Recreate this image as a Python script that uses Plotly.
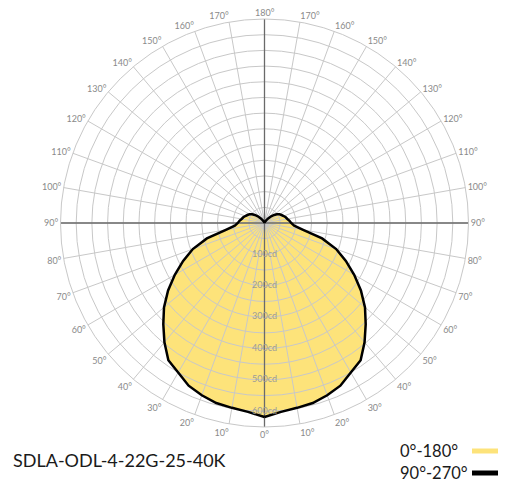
import plotly.graph_objects as go

# ---- data ----
ANGLES = [0, 5, 10, 15, 20, 25, 30, 35, 40, 45, 50, 55, 60, 65, 70, 75, 80, 85,
          90, 95, 100, 105, 110, 115, 120, 125, 130, 135, 140, 145, 150, 155, 160,
          165, 170, 175, 180]
INTENSITY_C0 = [618, 604, 598, 594, 584, 572, 550, 534, 496, 456, 418, 375, 330, 286,
                243, 190, 125, 95, 85, 80, 74, 70, 65, 60, 55, 48, 40, 30, 20, 12, 7,
                4, 2, 1, 0, 0, 0]
INTENSITY_C90 = list(INTENSITY_C0)
RADIAL_TICKS = [100, 200, 300, 400, 500, 600]
RADIAL_LABELS = ["100cd", "200cd", "300cd", "400cd", "500cd", "600cd"]
ANGLE_TICKS = list(range(0, 360, 10))
ANGLE_LABELS = [f"{t if t <= 180 else 360 - t}°" for t in ANGLE_TICKS]
TITLE = "SDLA-ODL-4-22G-25-40K"
SERIES_NAMES = ["0°-180°", "90°-270°"]
R_MAX = 650

YELLOW = "#FDE37A"
GRID = "#c8c8c8"
AXIS_DARK = "#6a6a6a"
TICK_GREY = "#8a8a8a"
FONT = "Lato"

# page body has an 8px margin; figure is sized to fit inside the window
OFF = 8
W, H = 524 - 2 * OFF, 498 - 2 * OFF


def px(x):
    return (x - OFF) / W


def py(y):
    return 1 - (y - OFF) / H


def full_curve(vals):
    theta = ANGLES + [360 - a for a in reversed(ANGLES[:-1])]
    r = vals + list(reversed(vals[:-1]))
    return theta, r


th0, r0 = full_curve(INTENSITY_C0)
th90, r90 = full_curve(INTENSITY_C90)

# the top (180°) label is written as an annotation so it sits inside the page
top_idx = ANGLE_TICKS.index(180)
tick_text_axis = [("" if i == top_idx else t) for i, t in enumerate(ANGLE_LABELS)]

fig = go.Figure()

fig.add_trace(go.Scatterpolar(r=r0, theta=th0, mode="lines", fill="toself",
                              fillcolor=YELLOW, line=dict(color=YELLOW, width=1),
                              name=SERIES_NAMES[0], subplot="polar"))

fig.add_trace(go.Scatterpolar(r=[R_MAX, 0, R_MAX], theta=[0, 0, 180], mode="lines",
                              line=dict(color=AXIS_DARK, width=1.3), subplot="polar2"))
fig.add_trace(go.Scatterpolar(r=[R_MAX, 0, R_MAX], theta=[90, 90, 270], mode="lines",
                              line=dict(color=AXIS_DARK, width=1.3), subplot="polar2"))

fig.add_trace(go.Scatterpolar(r=r90, theta=th90, mode="lines",
                              line=dict(color="black", width=2.5),
                              name=SERIES_NAMES[1], subplot="polar2"))

fig.add_trace(go.Scatterpolar(r=RADIAL_TICKS, theta=[0] * len(RADIAL_TICKS), mode="text",
                              text=RADIAL_LABELS, textposition="middle center",
                              textfont=dict(family=FONT, size=9, color="#9a9a9a"),
                              subplot="polar2"))

cx, cy, rad = 264.5, 223.0, 204.0
dom_x = [px(cx - rad), px(cx + rad)]
dom_y = [py(cy + rad), py(cy - rad)]

common_ang = dict(rotation=-90, direction="counterclockwise", tickmode="array",
                  tickvals=ANGLE_TICKS, ticks="")
common_rad = dict(range=[0, R_MAX], dtick=50, tick0=0, showticklabels=False,
                  ticks="", showline=False)

fig.update_layout(
    width=W, height=H,
    margin=dict(l=0, r=0, t=0, b=0),
    paper_bgcolor="white",
    showlegend=False,
    polar=dict(domain=dict(x=dom_x, y=dom_y), bgcolor="white",
               angularaxis=dict(**common_ang, ticktext=ANGLE_LABELS, showgrid=False,
                                showline=False, showticklabels=False),
               radialaxis=dict(**common_rad, showgrid=False)),
    polar2=dict(domain=dict(x=dom_x, y=dom_y), bgcolor="rgba(0,0,0,0)",
                angularaxis=dict(**common_ang, ticktext=tick_text_axis, showgrid=True,
                                 gridcolor=GRID, gridwidth=1,
                                 showline=True, linecolor=GRID, linewidth=1,
                                 tickfont=dict(family=FONT, size=9, color=TICK_GREY)),
                radialaxis=dict(**common_rad, showgrid=True, gridcolor=GRID, gridwidth=1)),
)

fig.add_annotation(x=px(cx), y=py(12.5), xref="paper", yref="paper",
                   text=ANGLE_LABELS[top_idx], showarrow=False,
                   xanchor="center", yanchor="middle",
                   font=dict(family=FONT, size=9, color=TICK_GREY))
fig.add_annotation(x=px(11), y=py(460), xref="paper", yref="paper",
                   text=TITLE, showarrow=False, xanchor="left", yanchor="middle",
                   font=dict(family=FONT, size=18, color="#1a1a1a"))
fig.add_annotation(x=px(398), y=py(451), xref="paper", yref="paper",
                   text=SERIES_NAMES[0], showarrow=False, xanchor="left", yanchor="middle",
                   font=dict(family=FONT, size=16.5, color="#1a1a1a"))
fig.add_annotation(x=px(398), y=py(473), xref="paper", yref="paper",
                   text=SERIES_NAMES[1], showarrow=False, xanchor="left", yanchor="middle",
                   font=dict(family=FONT, size=16.5, color="#1a1a1a"))
fig.add_shape(type="line", xref="paper", yref="paper", x0=px(472), x1=px(498),
              y0=py(451), y1=py(451), line=dict(color=YELLOW, width=5))
fig.add_shape(type="line", xref="paper", yref="paper", x0=px(472), x1=px(498),
              y0=py(473), y1=py(473), line=dict(color="black", width=5))

fig.write_html("out.html")
